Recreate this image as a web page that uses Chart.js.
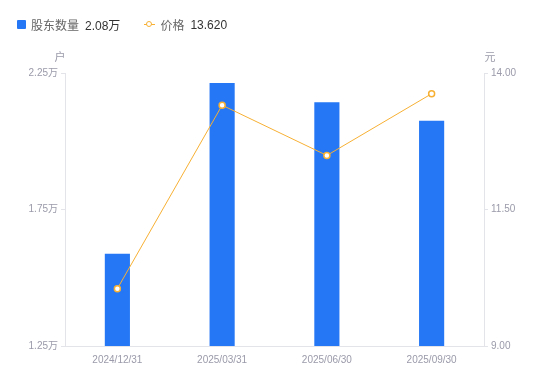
<!DOCTYPE html>
<html>
<head>
<meta charset="utf-8">
<script src="https://cdn.jsdelivr.net/npm/chart.js@4/dist/chart.umd.min.js"></script>
<style>
    html, body { margin: 0; padding: 0; background: #fff; }
    #wrap { position: relative; width: 550px; height: 381px; }
    #legend {
        position: absolute; left: 17px; top: 16px;
        font: 12px "Liberation Sans", "Noto Sans CJK SC", sans-serif;
        color: #666; display: flex; align-items: center;
    }
    .item { display: flex; align-items: center; margin-right: 24px; }
    .val { color: #333; margin-left: 6px; }
    .sq { width: 9px; height: 9px; background: #2577f5; border-radius: 1px; margin-right: 5px; }
    .ln { position: relative; width: 11px; height: 9px; margin-right: 5px; }
    .ln:before { content: ''; position: absolute; left: 0; right: 0; top: 4px; height: 1px; background: #f7b033; }
    .ln:after { content: ''; position: absolute; left: 2px; top: 1px; width: 4px; height: 4px; border: 1.5px solid #f7b033; border-radius: 50%; background: #fff; }
</style>
</head>
<body>
<div id="wrap">
    <canvas id="chart" width="550" height="381"></canvas>
    <div id="legend">
        <div class="item"><span class="sq"></span>股东数量<span class="val">2.08万</span></div>
        <div class="item"><span class="ln"></span>价格<span class="val">13.620</span></div>
    </div>
</div>
<script>
// Données
const dates = ['2024/12/31', '2025/03/31', '2025/06/30', '2025/09/30'];
const holders = [1.588, 2.213, 2.143, 2.075]; // en 万 户
const prices = [10.05, 13.41, 12.49, 13.62];  // 元
const leftTicks = [1.25, 1.75, 2.25];
const rightTicks = [9, 11.5, 14];

const tickColor = '#9a9aaa';
const axisColor = '#e3e3ea';
const font = { family: '"Liberation Sans", "Noto Sans CJK SC", sans-serif', size: 10 };

// Titres des axes (户 / 元)
const axisTitles = {
    id: 'axisTitles',
    afterDraw(chart) {
        const ctx = chart.ctx;
        const area = chart.chartArea;
        ctx.save();
        ctx.font = '11px "Noto Sans CJK SC", sans-serif';
        ctx.fillStyle = tickColor;
        ctx.textBaseline = 'middle';
        ctx.textAlign = 'center';
        ctx.fillText('户', area.left - 5, area.top - 16);
        ctx.fillText('元', area.right + 6, area.top - 16);
        ctx.restore();
    }
};

new Chart(document.getElementById('chart'), {
    data: {
        labels: dates,
        datasets: [{
            type: 'line',
            label: '价格',
            data: prices,
            yAxisID: 'yR',
            borderColor: '#f7b033',
            borderWidth: 1,
            pointRadius: 3,
            pointBorderWidth: 1.5,
            pointBackgroundColor: '#fff',
            pointBorderColor: '#f7b033',
            tension: 0,
            order: 0
        }, {
            type: 'bar',
            label: '股东数量',
            data: holders,
            yAxisID: 'yL',
            backgroundColor: '#2577f5',
            categoryPercentage: 1,
            barPercentage: 0.24,
            order: 1
        }]
    },
    options: {
        responsive: false,
        animation: false,
        layout: { padding: { top: 73, left: 0, right: 0, bottom: 0 } },
        plugins: {
            legend: { display: false },
            tooltip: { enabled: false }
        },
        scales: {
            x: {
                grid: { display: false },
                border: { display: true, color: axisColor },
                ticks: { color: tickColor, font: font, padding: 0, maxRotation: 0 },
                afterFit(scale) { scale.height = 35; }
            },
            yL: {
                position: 'left',
                min: 1.25,
                max: 2.25,
                grid: { display: true, drawOnChartArea: false, drawTicks: true, tickLength: 4, color: axisColor },
                border: { display: true, color: axisColor },
                afterBuildTicks(scale) { scale.ticks = leftTicks.map(v => ({ value: v })); },
                ticks: { color: tickColor, font: font, padding: 3, callback: v => v + '万' },
                afterFit(scale) { scale.width = 65; }
            },
            yR: {
                position: 'right',
                min: 9,
                max: 14,
                grid: { display: true, drawOnChartArea: false, drawTicks: true, tickLength: 4, color: axisColor },
                border: { display: true, color: axisColor },
                afterBuildTicks(scale) { scale.ticks = rightTicks.map(v => ({ value: v })); },
                ticks: { color: tickColor, font: font, padding: 3, callback: v => Number(v).toFixed(2) },
                afterFit(scale) { scale.width = 66; }
            }
        }
    },
    plugins: [axisTitles]
});
</script>
</body>
</html>
